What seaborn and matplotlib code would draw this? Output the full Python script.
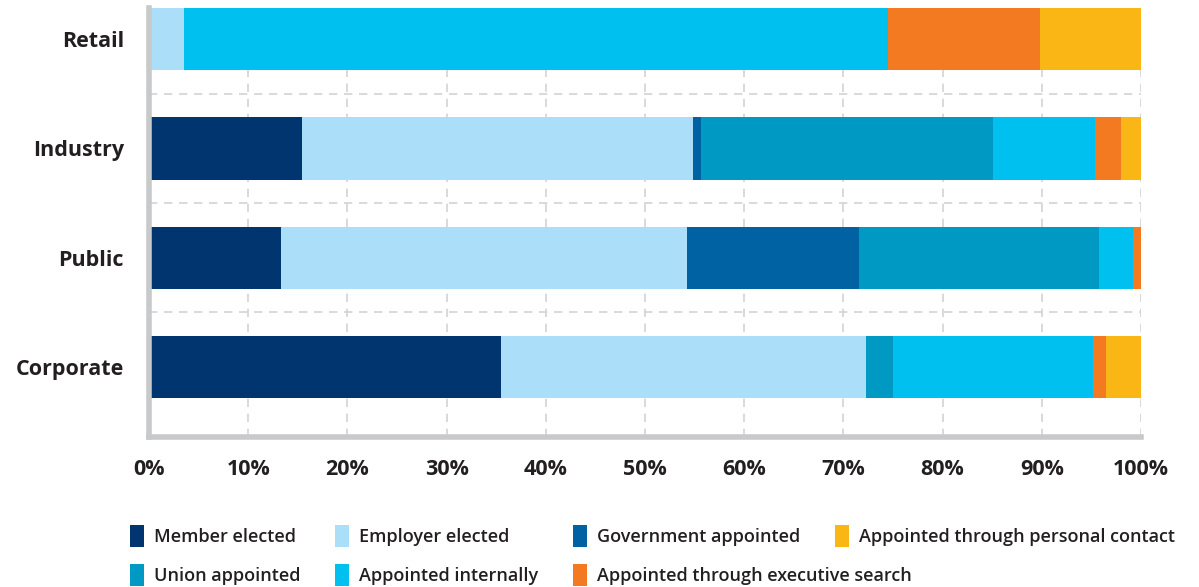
import numpy as np
import pandas as pd
import matplotlib
matplotlib.use("Agg")
import matplotlib.pyplot as plt
import seaborn as sns
from matplotlib.patches import Patch

categories = ["Retail", "Industry", "Public", "Corporate"]
series_names = ["Member elected", "Employer elected", "Government appointed",
                "Union appointed", "Appointed internally",
                "Appointed through executive search", "Appointed through personal contact"]
member_elected = [0.0, 15.4, 13.3, 35.5]
employer_elected = [3.5, 39.4, 40.9, 36.8]
government_appointed = [0.0, 0.8, 17.4, 0.0]
union_appointed = [0.0, 29.5, 24.2, 2.7]
appointed_internally = [71.0, 10.3, 3.4, 20.2]
executive_search = [15.3, 2.6, 0.8, 1.3]
personal_contact = [10.2, 2.0, 0.0, 3.5]
x_ticks = [0, 10, 20, 30, 40, 50, 60, 70, 80, 90, 100]
x_tick_labels = [f"{t}%" for t in x_ticks]

colors = ["#003570", "#ABDFF9", "#0062A3", "#0099C4", "#00C0F0", "#F37A20", "#FAB615"]

series = [member_elected, employer_elected, government_appointed, union_appointed,
          appointed_internally, executive_search, personal_contact]

sns.set_theme(style="white")
plt.rcParams['font.family'] = ['Open Sans', 'DejaVu Sans']

W, H = 1199, 587
fig = plt.figure(figsize=(W / 100, H / 100), dpi=100)
ax = fig.add_axes([149/W, 1 - 437/H, (1141 - 149)/W, (437 - 8)/H])

cum = np.cumsum(np.array(series), axis=0)
# draw from the full stack down so each shorter cumulative bar overlays the longer
for i in range(len(series) - 1, -1, -1):
    df = pd.DataFrame({"cat": categories, "val": cum[i]})
    sns.barplot(data=df, y="cat", x="val", orient="h", color=colors[i],
                width=0.57, ax=ax, saturation=1, zorder=2, linewidth=0)

ax.set_xlim(0, 100)
ax.set_ylim(3.64, -0.285)
ax.set_xticks(x_ticks)
ax.set_xticklabels(x_tick_labels)
ax.set_xlabel("")
ax.set_ylabel("")
ax.grid(axis="x", color="#d3d3d3", linestyle=(0, (5, 4)), linewidth=1.2, zorder=0)
for yv in [0.5, 1.5, 2.5]:
    ax.axhline(yv, color="#d3d3d3", linestyle=(0, (5, 4)), linewidth=1.2, zorder=0)
ax.set_axisbelow(True)

for s in ["top", "right"]:
    ax.spines[s].set_visible(False)
for s in ["left", "bottom"]:
    ax.spines[s].set_color("#c8c9ca")
    ax.spines[s].set_linewidth(4)
ax.tick_params(axis="both", length=0)
ax.tick_params(axis="y", pad=18)
ax.tick_params(axis="x", pad=16)
for lab in ax.get_yticklabels():
    lab.set_fontsize(15.5)
    lab.set_fontweight("bold")
    lab.set_color("#231F20")
for lab in ax.get_xticklabels():
    lab.set_fontsize(15.5)
    lab.set_fontweight("bold")
    lab.set_color("#231F20")

# legend entries placed like the reference (two rows, aligned columns)
legend_pos = {
    0: (130, 536), 1: (335, 536), 2: (573, 536), 6: (835, 536),
    3: (130, 575), 4: (335, 575), 5: (573, 575),
}
for idx, (lx, ly) in legend_pos.items():
    leg = fig.legend([Patch(facecolor=colors[idx], edgecolor="none")], [series_names[idx]],
                     loc="center left", bbox_to_anchor=(lx / W, 1 - ly / H),
                     frameon=False, borderpad=0, borderaxespad=0,
                     handlelength=0.75, handleheight=1.45, handletextpad=0.6,
                     prop={"size": 13, "weight": "semibold"})
    for t in leg.get_texts():
        t.set_color("#231F20")

fig.savefig("out.png", dpi=100)
